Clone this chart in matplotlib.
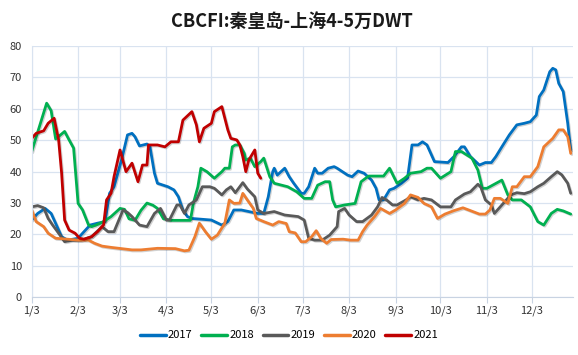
import matplotlib
matplotlib.use("Agg")
import matplotlib.pyplot as plt
import matplotlib.patheffects as pe

# ---- data (x = day of year, y = index value) ----
days_2017 = [3, 7, 12, 16, 20, 23, 27, 34, 37, 42, 47, 52, 55, 58, 63, 67, 70, 72, 75, 80, 82, 85, 87, 94, 98, 101, 104, 107, 110, 123, 130, 134, 138, 143, 154, 158, 161, 164, 165, 167, 172, 175, 178, 183, 185, 188, 192, 194, 197, 201, 205, 207, 214, 217, 221, 225, 230, 233, 235, 238, 242, 245, 250, 254, 257, 261, 264, 267, 272, 281, 285, 290, 292, 296, 302, 306, 310, 313, 317, 322, 327, 332, 336, 340, 342, 345, 349, 351, 353, 355, 358, 361, 363]
vals_2017 = [24.6, 26.7, 28.3, 26.7, 22.5, 19.3, 18.2, 18.8, 20.4, 23, 23.6, 24.1, 33.1, 35.2, 43.7, 51.7, 52.2, 51.1, 48.2, 48.8, 47.9, 39.5, 36.3, 35.2, 34.2, 32, 27.8, 25.7, 25.1, 24.6, 23, 24.1, 27.8, 27.8, 26.7, 26.7, 32, 40, 41.1, 38.9, 41.1, 38.4, 36.3, 33.1, 33.1, 35.2, 41.1, 39.5, 39.5, 41.1, 41.6, 41.1, 38.9, 38.4, 40.2, 39.5, 37.3, 34.7, 31, 31, 34.2, 34.7, 36.3, 37.9, 48.5, 48.5, 49.5, 48.5, 43.2, 42.9, 44.8, 47.9, 47.9, 44.8, 42.1, 42.9, 42.9, 44.8, 47.9, 51.7, 54.9, 55.4, 55.9, 58, 63.9, 66, 71.8, 72.9, 72.4, 68.1, 65.5, 55.4, 46.9]

days_2018 = [3, 13, 16, 19, 25, 28, 31, 34, 37, 41, 43, 46, 51, 56, 62, 65, 68, 72, 76, 80, 84, 87, 91, 96, 109, 111, 114, 116, 120, 125, 130, 132, 135, 137, 139, 142, 145, 146, 149, 152, 156, 158, 162, 165, 174, 180, 185, 190, 194, 199, 202, 204, 206, 212, 219, 223, 228, 233, 238, 242, 247, 252, 256, 263, 267, 270, 276, 283, 286, 290, 297, 301, 304, 307, 317, 321, 324, 330, 336, 341, 345, 350, 354, 358, 363]
vals_2018 = [46.4, 61.8, 59.4, 50.4, 52.8, 50.1, 47.5, 29.9, 27.8, 23, 22.5, 23, 24.1, 25.7, 28.3, 28, 25, 24.5, 27.7, 30, 29.3, 28.3, 25, 24.5, 24.5, 30, 35.2, 41.1, 40, 37.9, 40, 41.1, 41.1, 47.9, 48.5, 48.5, 45.8, 43.7, 44.3, 41.6, 43.2, 44.3, 38.4, 36.3, 35.2, 33.6, 31.5, 31.5, 35.7, 36.8, 36.8, 31, 28.8, 29.4, 29.9, 36.8, 38.6, 38.6, 38.6, 41.1, 36.3, 37.9, 39.5, 40, 41.1, 41.1, 37.9, 40, 46.4, 46.4, 44.3, 40.5, 34.7, 34.7, 37.3, 32.6, 31, 31, 28.8, 24.1, 23, 26.7, 28, 27.5, 26.5]

days_2019 = [3, 7, 11, 14, 17, 21, 25, 30, 36, 43, 50, 54, 58, 64, 67, 70, 75, 80, 85, 89, 93, 95, 100, 102, 105, 108, 113, 117, 122, 125, 130, 133, 136, 139, 144, 147, 152, 154, 158, 165, 172, 181, 185, 188, 192, 197, 202, 207, 208, 212, 215, 220, 224, 230, 234, 237, 240, 244, 247, 253, 256, 261, 265, 270, 276, 283, 286, 292, 296, 301, 303, 306, 310, 312, 315, 320, 323, 327, 332, 336, 341, 345, 350, 354, 357, 361, 363]
vals_2019 = [28.8, 29.2, 28.5, 25.1, 23, 20.4, 17.7, 18.2, 18.2, 19.3, 22.5, 20.9, 20.9, 27.8, 27, 25.7, 23, 22.5, 26.7, 28.3, 24.6, 24.6, 29.4, 29.4, 26.7, 29.4, 31, 35.2, 35.2, 34.7, 32.6, 34.2, 35.2, 33.3, 36.5, 34.5, 32, 27.8, 26.7, 27.3, 26.2, 25.7, 24.6, 18.8, 18.2, 18.2, 19.8, 22.5, 27.3, 28.3, 26.2, 24.1, 24.1, 26.2, 28.8, 31.8, 31, 29.4, 29.4, 31, 32, 31, 31.5, 31, 28.8, 28.8, 31, 32.9, 33.6, 36, 35, 31, 29.4, 26.7, 28.3, 31, 32.6, 33.3, 33, 33.6, 35.2, 36.3, 38.4, 40, 39, 36.3, 33.1]

days_2020 = [3, 6, 11, 14, 19, 27, 34, 41, 45, 50, 56, 63, 70, 76, 87, 99, 105, 108, 112, 115, 119, 123, 127, 132, 135, 138, 142, 144, 147, 151, 153, 158, 164, 168, 173, 175, 179, 183, 186, 190, 193, 196, 200, 203, 211, 216, 221, 224, 227, 232, 236, 242, 246, 252, 256, 261, 265, 270, 274, 279, 285, 291, 296, 302, 306, 309, 312, 316, 321, 324, 327, 332, 336, 341, 345, 351, 355, 358, 361, 363]
vals_2020 = [27.8, 24.1, 22.5, 20.4, 18.8, 18.5, 18.2, 18.2, 17.2, 16.3, 15.9, 15.5, 15.1, 15.1, 15.6, 15.5, 14.8, 15, 19.3, 23.6, 20.9, 18.5, 19.8, 23.6, 31, 29.9, 30, 33.1, 31, 28.3, 25.1, 24.1, 23, 24.1, 23.5, 20.9, 20.5, 17.7, 17.7, 19.3, 21.2, 18.8, 17.2, 18.4, 18.5, 18.2, 18.2, 20.9, 23, 25.7, 28.3, 26.7, 27.8, 29.9, 32.6, 31.8, 29.9, 28.8, 25.1, 26.5, 27.6, 28.5, 27.6, 26.5, 26.5, 27.8, 31.5, 31.5, 29.9, 35.2, 35.2, 38.4, 38.4, 41.6, 47.9, 50.6, 53.3, 53.3, 51.1, 45.8]

days_2021 = [3, 6, 11, 14, 18, 21, 23, 25, 28, 32, 35, 38, 43, 47, 51, 53, 56, 58, 62, 66, 70, 74, 77, 80, 81, 87, 92, 96, 101, 104, 110, 113, 115, 118, 123, 125, 130, 132, 134, 136, 140, 142, 144, 146, 148, 152, 154, 156]
vals_2021 = [50.6, 52.2, 53, 55.4, 57, 50.1, 39.5, 24.6, 21.4, 20.4, 18.8, 18.5, 19.3, 20.9, 23, 31, 33.1, 38.4, 46.9, 40, 42.7, 36.8, 42.1, 42.1, 48.5, 48.5, 47.9, 49.5, 49.5, 56.4, 59.1, 54.9, 49.5, 53.8, 55.4, 59.1, 60.7, 57, 53.3, 50.6, 50.1, 48.5, 44.8, 40, 43.7, 46.9, 39.5, 37.9]

series_names = ["2017", "2018", "2019", "2020", "2021"]
series_colors = ["#0070C0", "#00B050", "#595959", "#ED7D31", "#C00000"]

tick_days = [3, 34, 62, 93, 123, 154, 184, 215, 246, 276, 307, 337]
tick_labels = ["1/3", "2/3", "3/3", "4/3", "5/3", "6/3", "7/3", "8/3", "9/3", "10/3", "11/3", "12/3"]
y_ticks = [0, 10, 20, 30, 40, 50, 60, 70, 80]

title_text = "CBCFI:秦皇岛-上海4-5万DWT"

plt.rcParams['font.family'] = ['Noto Sans CJK SC', 'DejaVu Sans']

fig = plt.figure(figsize=(5.78, 3.55), dpi=100)
ax = fig.add_axes([0.0548, 0.1625, 0.9365, 0.7079])

all_days = [days_2017, days_2018, days_2019, days_2020, days_2021]
all_vals = [vals_2017, vals_2018, vals_2019, vals_2020, vals_2021]
shadow = [pe.SimpleLineShadow(offset=(0.8, -0.8), alpha=0.18, shadow_color="black"), pe.Normal()]
for d, v, n, c in zip(all_days, all_vals, series_names, series_colors):
    ax.plot(d, v, color=c, lw=2.0, label=n, solid_joinstyle="round",
            solid_capstyle="round", path_effects=shadow)

ax.set_xlim(3, 364.5)
ax.set_ylim(0, 80)
ax.set_xticks(tick_days)
ax.set_xticklabels(tick_labels)
ax.set_yticks(y_ticks)
ax.grid(True, color="#D9E3F0", lw=0.9)
ax.set_axisbelow(True)
for s in ["top", "right"]:
    ax.spines[s].set_visible(False)
ax.spines["left"].set_color("#D9E3F0")
ax.spines["bottom"].set_color("#C8D3E2")
ax.tick_params(axis="y", length=0, labelsize=8, colors="#333333", pad=7)
ax.tick_params(axis="x", length=4, color="#C8D3E2", labelsize=8, colors="#333333", pad=2)

fig.text(0.505, 0.94, title_text, ha="center", va="center", fontsize=13,
         fontweight="bold", color="#1a1a1a")

leg = fig.legend(loc="center", bbox_to_anchor=(0.5, 0.055), ncol=5, frameon=False,
                 fontsize=8, handlelength=2.3, columnspacing=0.8, handletextpad=0.2)
for line in leg.get_lines():
    line.set_linewidth(2.5)
    line.set_path_effects([])

fig.savefig("out.png", dpi=100)
